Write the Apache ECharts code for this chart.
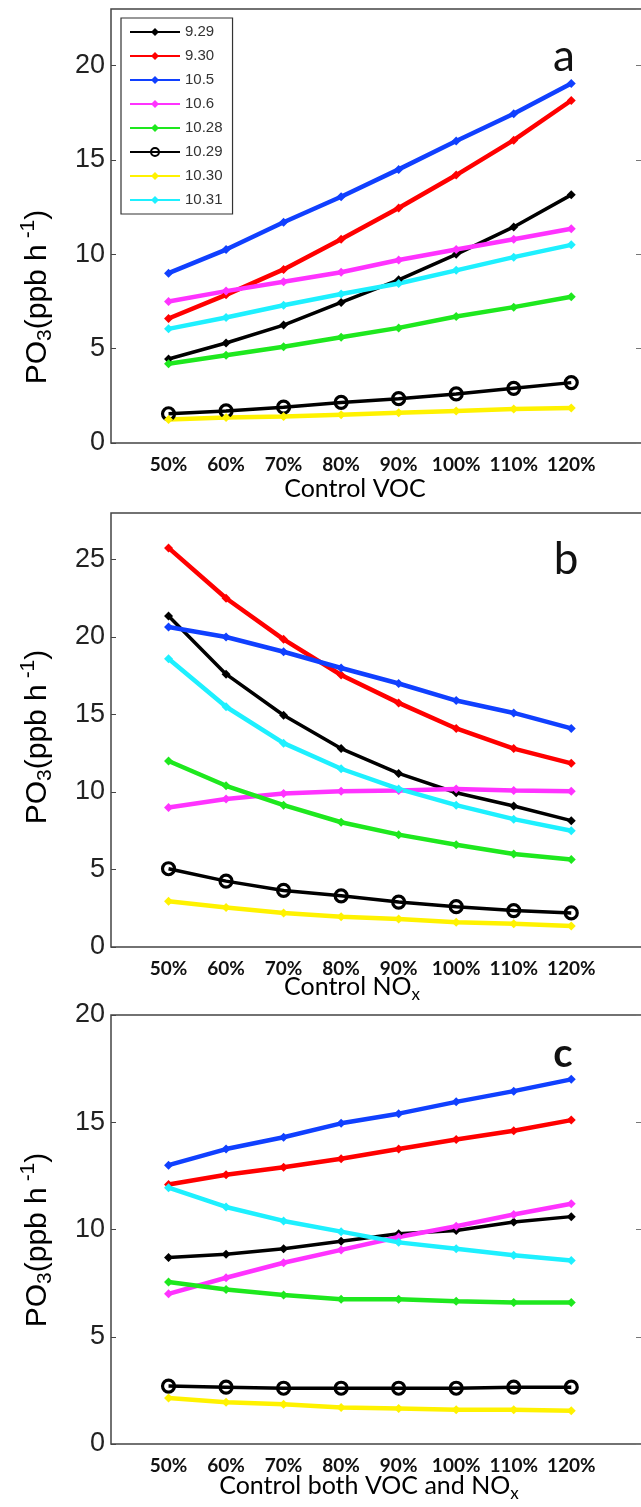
<!DOCTYPE html>
<html>
<head>
<meta charset="utf-8">
<script src="https://cdn.jsdelivr.net/npm/echarts@6/dist/echarts.min.js"></script>
<style>
  html, body { margin: 0; padding: 0; background: #ffffff; }
  #chart { width: 641px; height: 1507px; }
</style>
</head>
<body>
<div id="chart"></div>
<script>
// Control scenarios (percent of base emissions) and their tick labels
const xValues = [50, 60, 70, 80, 90, 100, 110, 120];
const xLabels = ['50%', '60%', '70%', '80%', '90%', '100%', '110%', '120%'];

// Case days
const dayNames = ['9.29', '9.30', '10.5', '10.6', '10.28', '10.29', '10.30', '10.31'];

// PO3 (ppb h-1) when controlling VOC
const voc929  = [4.45, 5.3, 6.25, 7.45, 8.65, 10.0, 11.45, 13.15];
const voc930  = [6.6, 7.85, 9.2, 10.8, 12.45, 14.2, 16.05, 18.15];
const voc1005 = [9.0, 10.25, 11.7, 13.05, 14.5, 16.0, 17.45, 19.05];
const voc1006 = [7.5, 8.05, 8.55, 9.05, 9.7, 10.25, 10.8, 11.35];
const voc1028 = [4.2, 4.65, 5.1, 5.6, 6.1, 6.7, 7.2, 7.75];
const voc1029 = [1.55, 1.7, 1.9, 2.15, 2.35, 2.6, 2.9, 3.2];
const voc1030 = [1.25, 1.35, 1.4, 1.5, 1.6, 1.7, 1.8, 1.85];
const voc1031 = [6.05, 6.65, 7.3, 7.9, 8.45, 9.15, 9.85, 10.5];

// PO3 (ppb h-1) when controlling NOx
const nox929  = [21.35, 17.6, 14.95, 12.8, 11.2, 9.95, 9.1, 8.15];
const nox930  = [25.75, 22.5, 19.85, 17.55, 15.75, 14.1, 12.8, 11.85];
const nox1005 = [20.65, 20.0, 19.05, 18.0, 17.0, 15.9, 15.1, 14.1];
const nox1006 = [9.0, 9.55, 9.9, 10.05, 10.1, 10.2, 10.1, 10.05];
const nox1028 = [12.0, 10.4, 9.15, 8.05, 7.25, 6.6, 6.0, 5.65];
const nox1029 = [5.05, 4.25, 3.65, 3.3, 2.9, 2.6, 2.35, 2.2];
const nox1030 = [2.95, 2.55, 2.2, 1.95, 1.8, 1.6, 1.5, 1.35];
const nox1031 = [18.6, 15.5, 13.15, 11.5, 10.2, 9.15, 8.25, 7.5];

// PO3 (ppb h-1) when controlling both VOC and NOx
const both929  = [8.7, 8.85, 9.1, 9.45, 9.8, 9.95, 10.35, 10.6];
const both930  = [12.1, 12.55, 12.9, 13.3, 13.75, 14.2, 14.6, 15.1];
const both1005 = [13.0, 13.75, 14.3, 14.95, 15.4, 15.95, 16.45, 17.0];
const both1006 = [7.0, 7.75, 8.45, 9.05, 9.65, 10.15, 10.7, 11.2];
const both1028 = [7.55, 7.2, 6.95, 6.75, 6.75, 6.65, 6.6, 6.6];
const both1029 = [2.7, 2.65, 2.6, 2.6, 2.6, 2.6, 2.65, 2.65];
const both1030 = [2.15, 1.95, 1.85, 1.7, 1.65, 1.6, 1.6, 1.55];
const both1031 = [11.95, 11.05, 10.4, 9.9, 9.4, 9.1, 8.8, 8.55];

const vocSets  = [voc929, voc930, voc1005, voc1006, voc1028, voc1029, voc1030, voc1031];
const noxSets  = [nox929, nox930, nox1005, nox1006, nox1028, nox1029, nox1030, nox1031];
const bothSets = [both929, both930, both1005, both1006, both1028, both1029, both1030, both1031];

// Line colours for each day
const dayColors = ['#000000', '#ff0000', '#1040ff', '#ff33ff', '#1ee81e', '#000000', '#fff200', '#1ef0ff'];

// Y-axis maxima of the three panels
const yMaxA = 23, yMaxB = 28, yMaxC = 20;

const chart = echarts.init(document.getElementById('chart'), null, { renderer: 'canvas' });

// The plot boxes run slightly past the right edge of the page
const grids = [
  { left: 111, top: 9,    width: 537, height: 434 },
  { left: 111, top: 513,  width: 537, height: 434 },
  { left: 111, top: 1015, width: 537, height: 429 }
];
const yMaxes = [yMaxA, yMaxB, yMaxC];
const rightTicks = [true, false, true];

const xAxes = grids.map((g, i) => ({
  type: 'value', gridIndex: i, min: 40, max: 133.34, interval: 10,
  axisLine: { show: false }, axisTick: { show: false }, splitLine: { show: false },
  axisLabel: {
    margin: 12, color: '#111', fontFamily: 'Lato', fontWeight: 'bold', fontSize: 19,
    formatter: v => { const k = xValues.indexOf(v); return k >= 0 ? xLabels[k] : ''; }
  }
}));

const yAxes = [];
grids.forEach((g, i) => {
  yAxes.push({
    type: 'value', gridIndex: i, min: 0, max: yMaxes[i], interval: 5,
    axisLine: { show: false }, splitLine: { show: false },
    axisTick: { show: true, inside: true, length: 5, lineStyle: { color: '#444', width: 1 } },
    axisLabel: { margin: 6, color: '#222', fontFamily: 'Liberation Sans', fontSize: 27, showMaxLabel: yMaxes[i] % 5 === 0 }
  });
  yAxes.push({
    type: 'value', gridIndex: i, position: 'right', offset: -7, min: 0, max: yMaxes[i], interval: 5,
    axisLine: { show: false }, splitLine: { show: false },
    axisTick: { show: rightTicks[i], inside: true, length: 5, lineStyle: { color: '#777', width: 1 } },
    axisLabel: { show: false }
  });
});

function makeSeries(sets, panel) {
  return sets.map((vals, k) => {
    const isCircle = dayNames[k] === '10.29';
    return {
      name: dayNames[k], type: 'line',
      xAxisIndex: panel, yAxisIndex: panel * 2,
      data: xValues.map((x, j) => [x, vals[j]]),
      symbol: isCircle ? 'circle' : 'diamond',
      symbolSize: isCircle ? 12 : 9,
      showSymbol: true,
      lineStyle: { color: dayColors[k], width: (k === 0 || k === 5) ? 3.5 : 4.5 },
      itemStyle: isCircle
        ? { color: 'rgba(255,255,255,0)', borderColor: dayColors[k], borderWidth: 3.2 }
        : { color: dayColors[k], borderWidth: 0 },
      emphasis: { disabled: true },
      animation: false
    };
  });
}

const series = [].concat(makeSeries(vocSets, 0), makeSeries(noxSets, 1), makeSeries(bothSets, 2));

const yNameRich = {
  n:   { fontFamily: 'Liberation Sans', fontSize: 30, color: '#111', lineHeight: 44, verticalAlign: 'middle' },
  sub: { fontFamily: 'Liberation Sans', fontSize: 21, color: '#111', lineHeight: 44, verticalAlign: 'bottom', padding: [0, 0, 4, 0] },
  sup: { fontFamily: 'Liberation Sans', fontSize: 21, color: '#111', lineHeight: 44, verticalAlign: 'top', padding: [2, 0, 0, 0] }
};
const yNameText = '{n|PO}{sub|3}{n|(ppb h}{sup| -1}{n|)}';

const titleRich = {
  n:   { fontFamily: 'Lato', fontSize: 25, color: '#111', lineHeight: 32, verticalAlign: 'middle' },
  sub: { fontFamily: 'Lato', fontSize: 17, color: '#111', lineHeight: 32, verticalAlign: 'bottom' }
};

function yName(cy) {
  return {
    type: 'text', x: 38, y: cy, rotation: Math.PI / 2,
    style: { text: yNameText, rich: yNameRich, align: 'center', verticalAlign: 'middle' }
  };
}
function xTitle(cx, cy, text) {
  return {
    type: 'text', x: cx, y: cy,
    style: { text: text, rich: titleRich, align: 'center', verticalAlign: 'middle' }
  };
}
function letter(cx, cy, t, bold, size) {
  return {
    type: 'text', x: cx, y: cy,
    style: { text: t, fontFamily: 'Lato', fontSize: size, fontWeight: bold ? 'bold' : 'normal', fill: '#111', align: 'center', verticalAlign: 'middle' }
  };
}

chart.setOption({
  backgroundColor: '#ffffff',
  animation: false,
  grid: grids.map(g => Object.assign({
    show: true, borderColor: '#444', borderWidth: 1.5, backgroundColor: 'transparent',
    containLabel: false, outerBoundsMode: 'none'
  }, g)),
  xAxis: xAxes,
  yAxis: yAxes,
  legend: {
    data: dayNames,
    orient: 'vertical', left: 121, top: 18,
    itemWidth: 50, itemHeight: 10, itemGap: 8,
    padding: [6, 10, 6, 8],
    borderColor: '#333', borderWidth: 1.2, backgroundColor: '#fff',
    textStyle: { fontFamily: 'Liberation Sans', fontSize: 15, color: '#333', lineHeight: 16 },
    selectedMode: false
  },
  graphic: [
    yName(297), yName(737), yName(1240),
    xTitle(355, 489, '{n|Control VOC}'),
    xTitle(352, 987, '{n|Control NO}{sub|x}'),
    xTitle(369, 1486, '{n|Control both VOC and NO}{sub|x}'),
    letter(564, 57, 'a', false, 44),
    letter(566, 560, 'b', false, 44),
    letter(563, 1054, 'c', true, 40)
  ],
  series: series
});
</script>
</body>
</html>
